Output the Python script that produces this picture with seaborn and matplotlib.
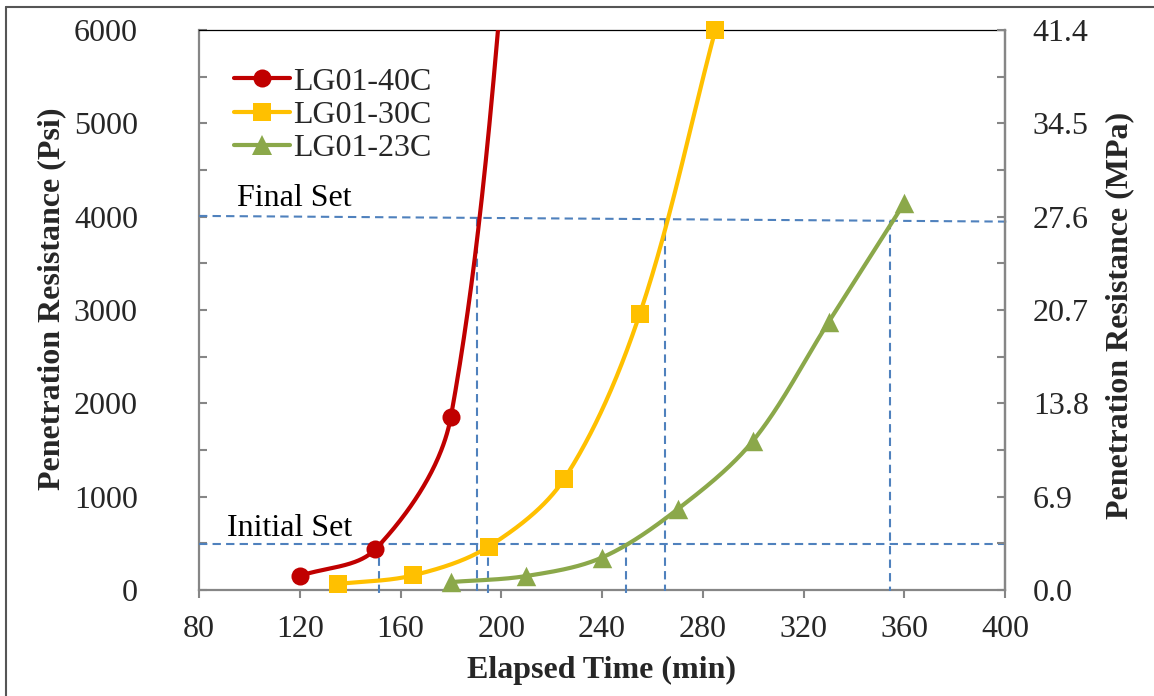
import numpy as np
import pandas as pd
import matplotlib
matplotlib.use("Agg")
import matplotlib.pyplot as plt
from matplotlib.lines import Line2D
import seaborn as sns

# ---------------- data ----------------
series_names = ["LG01-40C", "LG01-30C", "LG01-23C"]
t_40 = [120, 150, 180, 210]
p_40 = [150, 436, 1855, 9400]
t_30 = [135, 165, 195, 225, 255, 285]
p_30 = [64, 157, 465, 1190, 2958, 6000]
t_23 = [180, 210, 240, 270, 300, 330, 360]
p_23 = [85, 150, 348, 865, 1600, 2872, 4145]

initial_set_psi = 490
final_set_psi_left, final_set_psi_right = 4008, 3947
initial_set_times = [151.5, 194.8, 249.6]
final_set_times = [190.4, 265.2, 354.2]

x_ticks = [80, 120, 160, 200, 240, 280, 320, 360, 400]
psi_ticks = [0, 1000, 2000, 3000, 4000, 5000, 6000]
mpa_labels = ["0.0", "6.9", "13.8", "20.7", "27.6", "34.5", "41.4"]

colors = ["#C00000", "#FFC000", "#8BA84A"]
markers = ["o", "s", "^"]
msizes = [13, 13, 14]
set_color = "#4F81BD"
spine_gray = "#868686"

# ---------------- helpers ----------------
PX_X = 806 / 320.0   # px per minute (for screen-space smoothing)
PX_Y = 560 / 6000.0  # px per psi

def excel_smooth(x, y, n=80):
    P = np.column_stack([x, y]).astype(float)
    S = P * np.array([PX_X, PX_Y])
    out = []
    t = np.linspace(0, 1, n)[:, None]
    N = len(P)
    for i in range(N - 1):
        i0 = i - 1 if i > 0 else i
        i3 = i + 2 if i + 2 < N else i + 1
        p0, p1, p2, p3 = P[i0], P[i], P[i + 1], P[i3]
        d01 = np.linalg.norm(S[i] - S[i0])
        d12 = np.linalg.norm(S[i + 1] - S[i])
        d23 = np.linalg.norm(S[i3] - S[i + 1])
        f1 = d12 / (3.0 * (d01 + d12)) if (d01 + d12) > 0 else 0
        f2 = d12 / (3.0 * (d12 + d23)) if (d12 + d23) > 0 else 0
        c1 = p1 + (p2 - p0) * f1
        c2 = p2 - (p3 - p1) * f2
        B = ((1 - t) ** 3) * p1 + 3 * ((1 - t) ** 2) * t * c1 + 3 * (1 - t) * t ** 2 * c2 + t ** 3 * p2
        out.append(B if i == 0 else B[1:])
    B = np.vstack(out)
    return B[:, 0], B[:, 1]

# ---------------- style ----------------
sns.set_theme(style="white")
plt.rcParams["font.family"] = ["Liberation Serif", "DejaVu Serif"]
plt.rcParams["axes.unicode_minus"] = False
FS = 23

fig = plt.figure(figsize=(11.54, 6.96), dpi=100)
ax = fig.add_axes([199 / 1154, 1 - 590 / 696, 806 / 1154, 560 / 696])

YMAX = 6000
ax.set_xlim(80, 400)
ax.set_ylim(0, YMAX)

all_series = [(t_40, p_40), (t_30, p_30), (t_23, p_23)]
for (tx, py), name, c, m, ms in zip(all_series, series_names, colors, markers, msizes):
    sx, sy = excel_smooth(tx, py)
    sdf = pd.DataFrame({"t": sx, "p": sy})
    sns.lineplot(data=sdf, x="t", y="p", sort=False, estimator=None, color=c,
                 linewidth=3, ax=ax, zorder=4, legend=False)
    pdf = pd.DataFrame({"t": tx, "p": py})
    pdf = pdf[pdf["p"] <= YMAX]
    sns.scatterplot(data=pdf, x="t", y="p", marker=m, s=ms ** 2, color=c,
                    linewidth=0, ax=ax, zorder=5, legend=False, clip_on=False)

# set lines
dash = (0, (4, 2.5))
ax.plot([80, 400], [initial_set_psi, initial_set_psi], color=set_color, lw=1.5,
        linestyle=dash, zorder=3, clip_on=False)
ax.plot([80, 401.2], [final_set_psi_left, final_set_psi_right], color=set_color, lw=1.5,
        linestyle=dash, zorder=3, clip_on=False)

def final_at(x):
    return final_set_psi_left + (final_set_psi_right - final_set_psi_left) * (x - 80) / (401.2 - 80)

for xv in initial_set_times:
    ax.plot([xv, xv], [initial_set_psi, -78], color=set_color, lw=1.5,
            linestyle=dash, zorder=3, clip_on=False)
for xv in final_set_times:
    ax.plot([xv, xv], [final_at(xv), -10], color=set_color, lw=1.5,
            linestyle=dash, zorder=3, clip_on=False)

ax.text(91.0, 660, "Initial Set", fontsize=FS, ha="left", va="center", color="black")
ax.text(95.0, 4200, "Final Set", fontsize=FS, ha="left", va="center", color="black")

# axes styling
for s in ["left", "bottom", "right"]:
    ax.spines[s].set_color(spine_gray)
    ax.spines[s].set_linewidth(1.6)
ax.spines["top"].set_color("black")
ax.spines["top"].set_linewidth(0.9)

ax.set_xticks(x_ticks)
ax.set_xticklabels([str(v) for v in x_ticks], fontsize=FS)
ax.set_yticks(psi_ticks)
ax.set_yticklabels([str(v) for v in psi_ticks], fontsize=FS)
ax.set_yticks(np.arange(500, 6000, 1000), minor=True)
ax.tick_params(axis="x", which="major", direction="out", length=6, width=1.5,
               color=spine_gray, pad=12, bottom=True)
ax.tick_params(axis="y", which="both", direction="in", length=6, width=1.5,
               color=spine_gray, pad=44, left=True)

ax.set_xlabel("Elapsed Time (min)", fontsize=FS, fontweight="bold")
ax.set_ylabel("Penetration Resistance (Psi)", fontsize=FS, fontweight="bold")
ax.xaxis.set_label_coords(0.499, -0.118)
ax.yaxis.set_label_coords(-0.165, 0.52)

ax2 = ax.twinx()
ax2.set_ylim(0, YMAX)
ax2.set_yticks(psi_ticks)
ax2.set_yticklabels(mpa_labels, fontsize=FS)
ax2.set_yticks(np.arange(500, 6000, 1000), minor=True)
ax2.tick_params(axis="y", which="both", direction="in", length=6, width=1.5,
                color=spine_gray, pad=20, right=True)
for s in ["left", "bottom", "top"]:
    ax2.spines[s].set_visible(False)
ax2.spines["right"].set_color(spine_gray)
ax2.spines["right"].set_linewidth(1.6)
ax2.set_ylabel("Penetration Resistance (MPa)", fontsize=FS, fontweight="bold", rotation=90)
ax2.yaxis.set_label_coords(1.124, 0.49)
ax2.grid(False)
ax.grid(False)

handles = [Line2D([0], [0], color=c, lw=3, marker=m, markersize=ms, markeredgewidth=0)
           for c, m, ms in zip(colors, markers, msizes)]
leg = ax2.legend(handles, series_names, loc="upper left", bbox_to_anchor=(0.035, 0.945),
                 frameon=False, fontsize=FS, handlelength=1.75, handletextpad=0.12,
                 labelspacing=0.12, borderpad=0.2, borderaxespad=0)

# figure border (left and top visible)
fig.add_artist(Line2D([6 / 1154, 6 / 1154], [0, 1 - 7 / 696], transform=fig.transFigure,
                      color="#555555", lw=1.5))
fig.add_artist(Line2D([6 / 1154, 1], [1 - 7 / 696, 1 - 7 / 696], transform=fig.transFigure,
                      color="#555555", lw=1.5))

fig.savefig("out.png", dpi=100)
